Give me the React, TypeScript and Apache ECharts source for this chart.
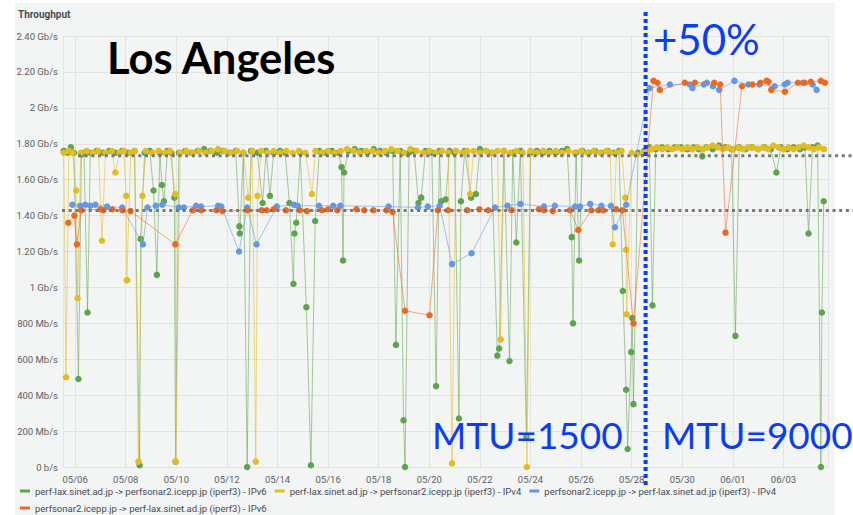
import React, { useEffect, useRef } from 'react';
import * as echarts from 'echarts';

// x = day of May (06/01 = 32), y = throughput in Gb/s
const seriesNames = [
  'perf-lax.sinet.ad.jp -> perfsonar2.icepp.jp (iperf3) - IPv6',
  'perf-lax.sinet.ad.jp -> perfsonar2.icepp.jp (iperf3) - IPv4',
  'perfsonar2.icepp.jp -> perf-lax.sinet.ad.jp (iperf3) - IPv4',
  'perfsonar2.icepp.jp -> perf-lax.sinet.ad.jp (iperf3) - IPv6',
];
const seriesColors = ['#5ea34f', '#e2bd22', '#6497e8', '#ea6a22'];

const laxToIceppV6: [number, number][] = [
  [5.55, 1.76], [5.70, 1.75], [5.83, 1.78], [5.95, 1.75], [6.13, 0.49], [6.25, 1.74], [6.35, 1.75], [6.49, 0.86],
  [6.60, 1.75], [6.85, 1.76], [7.10, 1.75], [7.35, 1.76], [7.60, 1.75], [7.85, 1.76], [8.10, 1.75], [8.35, 1.76],
  [8.55, 0.01], [8.59, 1.27], [8.75, 1.75], [8.95, 1.76], [9.10, 1.54], [9.23, 1.07], [9.35, 1.75], [9.43, 1.57],
  [9.51, 1.48], [9.65, 1.76], [9.80, 1.75], [9.92, 1.50], [9.97, 0.03], [10.10, 1.75], [10.35, 1.76], [10.60, 1.75],
  [10.85, 1.76], [11.10, 1.77], [11.35, 1.76], [11.60, 1.75], [11.85, 1.76], [12.10, 1.75], [12.35, 1.76], [12.49, 1.34],
  [12.51, 1.30], [12.65, 1.75], [12.80, 0.00], [12.95, 1.76], [13.20, 1.75], [13.41, 1.47], [13.55, 1.76], [13.70, 1.51],
  [13.85, 1.75], [14.10, 1.76], [14.30, 1.75], [14.47, 1.47], [14.63, 1.02], [14.67, 1.30], [14.74, 1.36], [14.90, 1.75],
  [15.14, 0.89], [15.32, 0.01], [15.49, 1.37], [15.65, 1.76], [15.90, 1.75], [16.15, 1.76], [16.40, 1.75], [16.53, 1.67],
  [16.59, 1.15], [16.63, 1.64], [16.80, 1.76], [17.05, 1.77], [17.30, 1.76], [17.55, 1.75], [17.80, 1.77], [18.05, 1.76],
  [18.30, 1.75], [18.55, 1.76], [18.68, 0.68], [18.85, 1.76], [18.98, 0.26], [19.04, 0.00], [19.20, 1.75], [19.40, 1.76],
  [19.57, 1.47], [19.68, 1.50], [19.85, 1.76], [20.10, 1.75], [20.27, 0.45], [20.40, 1.76], [20.47, 1.48], [20.65, 1.49],
  [20.80, 1.76], [21.00, 1.75], [21.17, 0.27], [21.25, 1.48], [21.40, 1.76], [21.65, 1.50], [21.84, 1.52], [22.00, 1.77],
  [22.25, 1.76], [22.45, 1.75], [22.69, 0.62], [22.76, 0.66], [22.95, 1.76], [23.17, 0.59], [23.30, 1.75], [23.44, 1.25],
  [23.60, 1.76], [23.84, 0.17], [24.00, 1.75], [24.25, 1.76], [24.50, 1.75], [24.75, 1.76], [25.00, 1.75], [25.25, 1.76],
  [25.45, 1.77], [25.63, 1.28], [25.68, 0.80], [25.80, 1.75], [25.92, 1.15], [26.05, 1.76], [26.30, 1.75], [26.55, 1.76],
  [26.80, 1.75], [27.05, 1.76], [27.30, 1.75], [27.50, 1.76], [27.65, 0.98], [27.78, 0.43], [27.84, 0.10], [27.98, 0.64],
  [28.02, 0.83], [28.07, 0.35], [28.25, 1.75], [28.50, 1.76], [28.70, 1.78], [28.82, 0.90], [28.95, 1.77], [29.20, 1.78],
  [29.45, 1.77], [29.70, 1.78], [29.95, 1.78], [30.20, 1.77], [30.45, 1.78], [30.65, 1.77], [30.79, 1.73], [30.95, 1.78],
  [31.20, 1.77], [31.45, 1.79], [31.70, 1.78], [31.95, 1.77], [32.10, 0.73], [32.25, 1.78], [32.50, 1.77], [32.75, 1.78],
  [33.00, 1.77], [33.25, 1.78], [33.50, 1.77], [33.72, 1.64], [33.90, 1.78], [34.15, 1.77], [34.40, 1.78], [34.65, 1.77],
  [34.85, 1.78], [34.99, 1.30], [35.15, 1.78], [35.35, 1.79], [35.48, 0.00], [35.52, 0.86], [35.59, 1.48],
];

const laxToIceppV4: [number, number][] = [
  [5.55, 1.75], [5.64, 0.50], [5.75, 1.76], [5.90, 1.75], [6.04, 1.54], [6.10, 0.94], [6.22, 1.75], [6.45, 1.76],
  [6.70, 1.75], [6.92, 1.76], [7.06, 1.26], [7.20, 1.75], [7.45, 1.76], [7.59, 1.64], [7.75, 1.75], [7.92, 1.76],
  [8.02, 1.51], [8.04, 1.04], [8.06, 1.04], [8.20, 1.75], [8.35, 1.76], [8.50, 0.03], [8.66, 1.51], [8.80, 1.76],
  [9.05, 1.75], [9.30, 1.76], [9.55, 1.75], [9.75, 1.76], [9.96, 1.52], [9.98, 0.03], [10.15, 1.75], [10.40, 1.76],
  [10.65, 1.75], [10.90, 1.76], [11.15, 1.75], [11.40, 1.76], [11.65, 1.77], [11.90, 1.76], [12.15, 1.75], [12.40, 1.76],
  [12.65, 1.75], [12.84, 1.50], [13.00, 1.76], [13.14, 0.03], [13.21, 1.51], [13.35, 1.76], [13.60, 1.75], [13.85, 1.76],
  [14.10, 1.75], [14.35, 1.76], [14.60, 1.75], [14.85, 1.76], [15.10, 1.75], [15.36, 1.52], [15.50, 1.76], [15.75, 1.75],
  [16.00, 1.76], [16.25, 1.75], [16.50, 1.76], [16.75, 1.77], [17.00, 1.76], [17.25, 1.75], [17.50, 1.76], [17.75, 1.76],
  [18.00, 1.75], [18.25, 1.76], [18.50, 1.77], [18.75, 1.76], [19.00, 1.75], [19.25, 1.77], [19.50, 1.76], [19.75, 1.75],
  [20.00, 1.76], [20.25, 1.75], [20.50, 1.76], [20.75, 1.75], [20.90, 0.02], [21.05, 1.76], [21.30, 1.75], [21.50, 1.76],
  [21.61, 1.52], [21.75, 1.76], [22.00, 1.75], [22.25, 1.76], [22.50, 1.75], [22.70, 1.76], [22.82, 0.71], [22.95, 1.76],
  [23.20, 1.75], [23.45, 1.76], [23.70, 1.75], [23.86, 0.00], [24.00, 1.76], [24.25, 1.75], [24.50, 1.76], [24.75, 1.75],
  [25.00, 1.76], [25.25, 1.75], [25.50, 1.76], [25.75, 1.75], [26.00, 1.76], [26.25, 1.75], [26.50, 1.76], [26.75, 1.75],
  [27.00, 1.76], [27.15, 1.75], [27.25, 1.24], [27.40, 1.75], [27.60, 1.76], [27.75, 1.50], [27.78, 1.21], [27.80, 0.85],
  [28.00, 1.75], [28.20, 1.74], [28.45, 1.75], [28.65, 1.76], [28.80, 1.77], [29.00, 1.78], [29.20, 1.77], [29.40, 1.78],
  [29.60, 1.77], [29.80, 1.78], [30.00, 1.77], [30.20, 1.78], [30.40, 1.77], [30.60, 1.78], [30.80, 1.77], [31.00, 1.78],
  [31.20, 1.79], [31.40, 1.78], [31.60, 1.77], [31.80, 1.78], [32.00, 1.77], [32.20, 1.78], [32.40, 1.77], [32.60, 1.78],
  [32.80, 1.78], [33.00, 1.77], [33.20, 1.78], [33.40, 1.77], [33.60, 1.79], [33.80, 1.78], [34.00, 1.77], [34.20, 1.78],
  [34.40, 1.77], [34.60, 1.78], [34.80, 1.79], [35.00, 1.78], [35.20, 1.77], [35.40, 1.78], [35.60, 1.77],
];

const icepToLaxV4: [number, number][] = [
  [5.89, 1.46], [6.20, 1.455], [6.40, 1.46], [6.60, 1.455], [6.80, 1.46], [7.26, 1.45], [7.86, 1.445], [8.68, 1.24],
  [8.86, 1.445], [9.19, 1.455], [9.45, 1.46], [10.10, 1.445], [10.30, 1.445], [10.78, 1.455], [10.98, 1.45], [11.65, 1.455],
  [11.78, 1.45], [12.48, 1.20], [12.80, 1.445], [13.17, 1.24], [13.97, 1.45], [14.65, 1.46], [14.80, 1.455], [15.64, 1.455],
  [16.20, 1.455], [16.48, 1.455], [18.39, 1.45], [19.55, 1.445], [19.94, 1.45], [20.41, 1.455], [20.90, 1.13], [21.67, 1.19],
  [22.60, 1.445], [23.09, 1.455], [23.60, 1.465], [24.53, 1.45], [24.96, 1.455], [25.76, 1.45], [25.96, 1.45], [26.36, 1.465],
  [26.80, 1.455], [27.18, 1.455], [27.34, 1.335], [27.78, 1.46], [28.71, 2.11], [29.51, 2.13], [30.30, 2.13], [30.40, 2.11],
  [30.85, 2.13], [30.97, 2.14], [31.21, 2.12], [31.46, 2.10], [32.06, 2.15], [32.61, 2.13], [33.05, 2.13], [33.65, 2.12],
  [34.05, 2.13], [34.16, 2.14], [34.76, 2.14], [35.15, 2.13], [35.31, 2.10],
];

const icepToLaxV6: [number, number][] = [
  [5.73, 1.36], [5.97, 1.40], [6.07, 1.24], [6.24, 1.43], [7.00, 1.435], [7.12, 1.43], [7.47, 1.435], [7.87, 1.43],
  [8.19, 1.425], [9.96, 1.24], [10.65, 1.43], [10.98, 1.43], [11.58, 1.43], [11.82, 1.425], [12.81, 1.43], [13.37, 1.43],
  [13.57, 1.43], [13.85, 1.435], [14.33, 1.43], [14.88, 1.43], [15.16, 1.425], [15.76, 1.43], [16.00, 1.435], [16.36, 1.43],
  [17.12, 1.435], [17.43, 1.43], [17.79, 1.43], [18.31, 1.43], [18.55, 1.42], [19.04, 0.87], [20.01, 0.845], [20.34, 1.43],
  [20.74, 1.43], [21.50, 1.43], [21.98, 1.435], [22.33, 1.43], [23.25, 1.43], [24.33, 1.435], [24.53, 1.43], [24.88, 1.425],
  [25.56, 1.43], [25.89, 1.32], [26.40, 1.43], [26.68, 1.43], [26.88, 1.43], [27.39, 1.435], [27.63, 1.43], [28.07, 0.80],
  [28.86, 2.15], [29.02, 2.14], [29.11, 2.10], [30.10, 2.14], [30.50, 2.14], [31.26, 2.14], [31.50, 2.13], [31.71, 1.305],
  [32.36, 2.12], [32.77, 2.13], [33.09, 2.14], [33.33, 2.15], [33.41, 2.145], [33.52, 2.10], [34.06, 2.09], [34.57, 2.14],
  [34.84, 2.14], [35.08, 2.145], [35.48, 2.15], [35.64, 2.14],
];

const seriesData = [laxToIceppV6, laxToIceppV4, icepToLaxV4, icepToLaxV6];

const xTickLabels = ['05/06', '05/08', '05/10', '05/12', '05/14', '05/16', '05/18', '05/20', '05/22', '05/24', '05/26', '05/28', '05/30', '06/01', '06/03'];
const yTickLabels = ['0 b/s', '200 Mb/s', '400 Mb/s', '600 Mb/s', '800 Mb/s', '1 Gb/s', '1.20 Gb/s', '1.40 Gb/s', '1.60 Gb/s', '1.80 Gb/s', '2 Gb/s', '2.20 Gb/s', '2.40 Gb/s'];

const xMin = 5.52;
const xMax = 35.76;
const mtuChangeDay = 28.55;
const referenceLevels = [1.733, 1.428];

const blueNote = '#0b3cf6';
const uiFont = 'Roboto, "Noto Sans", sans-serif';

export default function App() {
  const ref = useRef<HTMLDivElement>(null);
  useEffect(() => {
    if (!ref.current) return;
    const chart = echarts.init(ref.current, undefined, { renderer: 'svg' });
    const legendText = () => ({ fontSize: 9.5, color: '#464c54', fontFamily: uiFont, fontWeight: 'normal' });
    const legendBase = { padding: 0, itemWidth: 10, itemHeight: 3, itemGap: 8, icon: 'rect', selectedMode: false };
    chart.setOption({
      animation: false,
      backgroundColor: 'transparent',
      textStyle: { fontFamily: uiFont },
      grid: { left: 63, right: 25, top: 36, bottom: 48, containLabel: false, outerBoundsMode: 'none' },
      xAxis: {
        type: 'value', min: xMin, max: xMax, minInterval: 2, maxInterval: 2, splitNumber: 15,
        axisLine: { show: false }, axisTick: { show: false },
        splitLine: { show: true, lineStyle: { color: '#e2e3e3', width: 1 } },
        axisLabel: {
          showMinLabel: false, showMaxLabel: false, color: '#5b5f66', fontSize: 9.5, margin: 7,
          formatter: (v: number) => {
            const i = Math.round((v - 6) / 2);
            return Math.abs(v - (6 + 2 * i)) < 1e-6 && xTickLabels[i] ? xTickLabels[i] : '';
          },
        },
      },
      yAxis: {
        type: 'value', min: 0, max: 2.4, interval: 0.2,
        axisLine: { show: false }, axisTick: { show: false },
        splitLine: { show: true, lineStyle: { color: '#e2e3e3', width: 1 } },
        axisLabel: {
          color: '#5b5f66', fontSize: 9.5, margin: 5,
          formatter: (v: number) => yTickLabels[Math.round(v / 0.2)] ?? '',
        },
      },
      legend: [
        { ...legendBase, data: seriesNames.slice(0, 3), left: 20, top: 486, textStyle: legendText() },
        { ...legendBase, data: seriesNames.slice(3), left: 20, top: 503, textStyle: legendText() },
      ],
      series: seriesNames.map((name, k) => ({
        name, type: 'line', data: seriesData[k],
        symbol: 'circle', symbolSize: 6.5, showAllSymbol: true,
        itemStyle: { color: seriesColors[k] },
        lineStyle: { color: seriesColors[k], width: 1, opacity: 0.55 },
        emphasis: { disabled: true },
        z: 2 + k,
      })),
    });

    const px = (x: number, y: number) => chart.convertToPixel({ gridIndex: 0 }, [x, y]) as number[];
    const xm = px(mtuChangeDay, 0)[0];
    const yA = px(xMin, referenceLevels[0])[1];
    const yB = px(xMin, referenceLevels[1])[1];
    const fontNote = 'Lato, "Open Sans", sans-serif';
    chart.setOption({
      graphic: [
        { type: 'text', x: 18, y: 14, z: 50, style: { text: 'Throughput', fill: '#464c54', font: 'bold 10px ' + uiFont, verticalAlign: 'middle' } },
        { type: 'line', z: 40, shape: { x1: 78, y1: yA, x2: 853, y2: yA }, style: { stroke: '#777777', lineWidth: 3, lineDash: [3, 3.7] } },
        { type: 'line', z: 40, shape: { x1: 62, y1: yB, x2: 853, y2: yB }, style: { stroke: '#777777', lineWidth: 3, lineDash: [3, 3.7] } },
        { type: 'line', z: 60, shape: { x1: xm, y1: 12, x2: xm, y2: 488 }, style: { stroke: blueNote, lineWidth: 4, lineDash: [4, 3] } },
        { type: 'text', x: 107, y: 57, z: 60, style: { text: 'Los Angeles', fill: '#000', font: 'bold 43.5px ' + fontNote, verticalAlign: 'middle' } },
        { type: 'text', x: 653, y: 39, z: 60, style: { text: '+50%', fill: blueNote, font: '42px ' + fontNote, verticalAlign: 'middle' } },
        { type: 'text', x: 432, y: 434, z: 60, style: { text: 'MTU=1500', fill: blueNote, font: '37px ' + fontNote, verticalAlign: 'middle' } },
        { type: 'text', x: 662, y: 434, z: 60, style: { text: 'MTU=9000', fill: blueNote, font: '37px ' + fontNote, verticalAlign: 'middle' } },
      ],
    });
    return () => chart.dispose();
  }, []);
  return (
    <div style={{ position: 'fixed', left: 0, top: 0, width: 853, height: 515, background: '#ffffff' }}>
      <div style={{ position: 'absolute', left: 15, top: 3, width: 820, height: 512, background: '#f3f4f4' }} />
      <div ref={ref} style={{ position: 'absolute', left: 0, top: 0, width: 853, height: 515 }} />
    </div>
  );
}
